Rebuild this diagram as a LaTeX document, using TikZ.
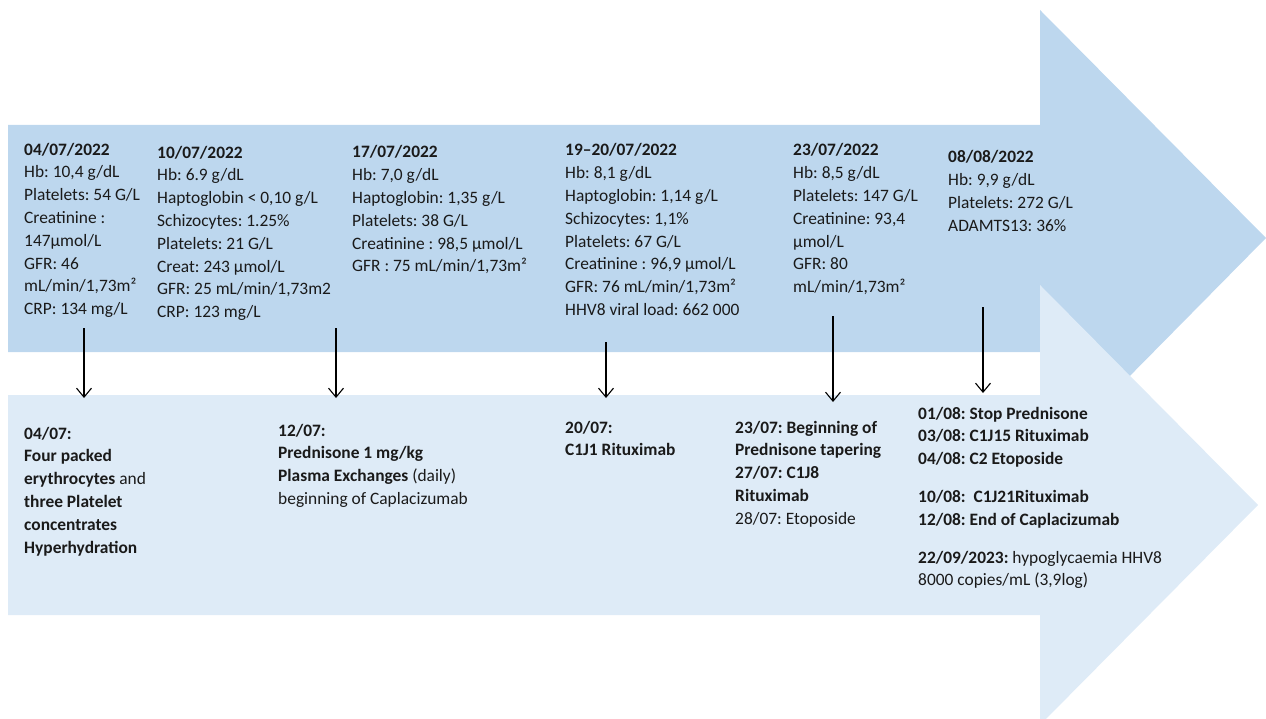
\documentclass[tikz,border=0pt]{standalone}
\usepackage{fontspec}
\setmainfont{Carlito}
\usetikzlibrary{arrows.meta}
\definecolor{topblue}{HTML}{BDD7EE}
\definecolor{lowblue}{HTML}{DEEBF7}
\definecolor{ink}{HTML}{1A1A1A}
\frenchspacing
\begin{document}
\begin{tikzpicture}[x=1pt,y=-1pt,
  txt/.style={anchor=base west, inner sep=0, align=left, text=ink,
    font=\fontsize{17.4}{22.8}\selectfont\frenchspacing},
  vline/.style={draw=black, line width=1.1pt, -{Straight Barb[length=9pt,width=15pt]}}]
\useasboundingbox (0,0) rectangle (1266,719);
\begin{scope}
\clip (0,0) rectangle (1266,719);
% upper band arrow
\fill[topblue] (8,125) -- (1040,125) -- (1040,10) -- (1266,238) -- (1040,467) -- (1040,352) -- (8,352) -- cycle;
% lower band arrow
\fill[lowblue] (8,395) -- (1040,395) -- (1040,285) -- (1258,505) -- (1040,725) -- (1040,615) -- (8,615) -- cycle;
\end{scope}

% upper texts (anchor = baseline of the last line)
\node[txt] (b1) at (24,314.6) {\textbf{04/07/2022}\\Hb: 10,4 g/dL\\Platelets: 54 G/L\\Creatinine :\\147µmol/L\\GFR: 46\\mL/min/1,73m²\\CRP: 134 mg/L};
\node[txt] (b2) at (157,317.6) {\textbf{10/07/2022}\\Hb: 6.9 g/dL\\Haptoglobin < 0,10 g/L\\Schizocytes: 1.25\%\\Platelets: 21 G/L\\Creat: 243 µmol/L\\GFR: 25 mL/min/1,73m2\\CRP: 123 mg/L};
\node[txt] (b3) at (352,272) {\textbf{17/07/2022}\\Hb: 7,0 g/dL\\Haptoglobin: 1,35 g/L\\Platelets: 38 G/L\\Creatinine : 98,5 µmol/L\\GFR : 75 mL/min/1,73m²};
\node[txt] (b4) at (565,315.6) {\textbf{19–20/07/2022}\\Hb: 8,1 g/dL\\Haptoglobin: 1,14 g/L\\Schizocytes: 1,1\%\\Platelets: 67 G/L\\Creatinine : 96,9 µmol/L\\GFR: 76 mL/min/1,73m²\\HHV8 viral load: 662 000};
\node[txt] (b5) at (793,292.8) {\textbf{23/07/2022}\\Hb: 8,5 g/dL\\Platelets: 147 G/L\\Creatinine: 93,4\\µmol/L\\GFR: 80\\mL/min/1,73m²};
\node[txt] (b6) at (948,231.4) {\textbf{08/08/2022}\\Hb: 9,9 g/dL\\Platelets: 272 G/L\\ADAMTS13: 36\%};

% lower texts
\node[txt] (l1) at (24,553) {\textbf{04/07:}\\\textbf{Four packed}\\\textbf{erythrocytes} and\\\textbf{three Platelet}\\\textbf{concentrates}\\\textbf{Hyperhydration}};
\node[txt] (l2) at (278,504.4) {\textbf{12/07:}\\\textbf{Prednisone 1 mg/kg}\\\textbf{Plasma Exchanges} (daily)\\beginning of Caplacizumab};
\node[txt] (l3) at (565,455.8) {\textbf{20/07:}\\\textbf{C1J1 Rituximab}};
\node[txt] (l4) at (735,524.2) {\textbf{23/07: Beginning of}\\\textbf{Prednisone tapering}\\\textbf{27/07: C1J8}\\\textbf{Rituximab}\\28/07: Etoposide};
\node[txt] (l5) at (918,585.8) {\textbf{01/08: Stop Prednisone}\\\textbf{03/08: C1J15 Rituximab}\\\textbf{04/08: C2 Etoposide}\\[15pt]\textbf{10/08:\ \ C1J21Rituximab}\\\textbf{12/08: End of Caplacizumab}\\[15pt]\textbf{22/09/2023:} hypoglycaemia HHV8\\8000 copies/mL (3,9log)};

% connectors
\coordinate (s1) at (84,328);  \coordinate (e1) at (84,398);
\coordinate (s2) at (336,328); \coordinate (e2) at (336,398);
\coordinate (s3) at (606,342); \coordinate (e3) at (606,398);
\coordinate (s4) at (833,316); \coordinate (e4) at (833,402);
\coordinate (s5) at (983,307); \coordinate (e5) at (983,393);
\draw[vline] (s1) -- (e1);
\draw[vline] (s2) -- (e2);
\draw[vline] (s3) -- (e3);
\draw[vline] (s4) -- (e4);
\draw[vline] (s5) -- (e5);
\end{tikzpicture}
\end{document}
